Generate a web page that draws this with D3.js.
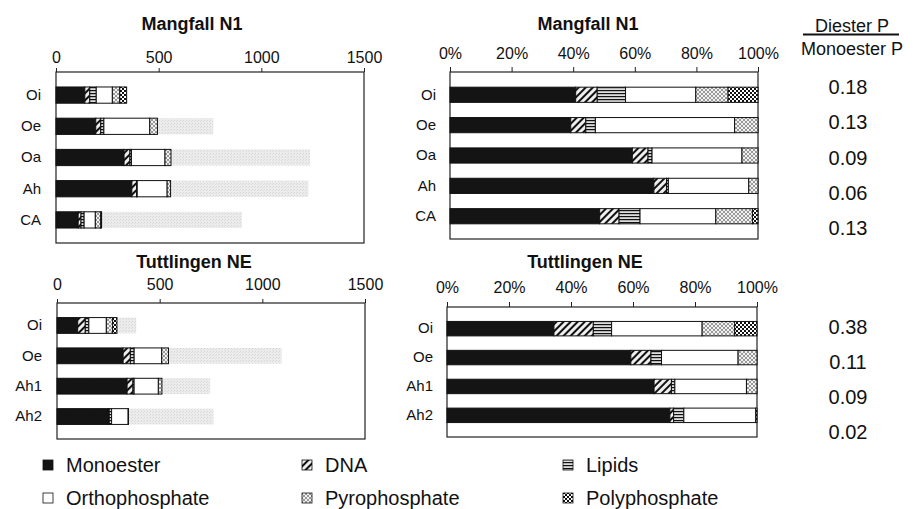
<!DOCTYPE html>
<html>
<head>
<meta charset="utf-8">
<script src="https://cdn.jsdelivr.net/npm/d3@7"></script>
<style>
  body { margin: 0; background: #fff; }
  svg { display: block; font-family: "Liberation Sans", Arial, sans-serif; }
</style>
</head>
<body>
<div id="chart"></div>
<script>
"use strict";

// P forms from 31P-NMR, share of NMR-detected P (%)
const components = ["Monoester", "DNA", "Lipids", "Orthophosphate", "Pyrophosphate", "Polyphosphate"];

const mangfallHorizons = ["Oi", "Oe", "Oa", "Ah", "CA"];
const mangfallShares = [
  [40.8, 7.0, 9.2, 22.8, 10.5, 9.7],
  [39.2, 4.9, 3.1, 45.2, 7.6, 0],
  [59.2, 5.1, 1.3, 29.2, 5.2, 0],
  [66.2, 4.1, 0.6, 26.1, 3.0, 0],
  [48.6, 6.3, 6.8, 24.6, 11.9, 1.8]
];
const mangfallNmrP = [344, 494, 560, 558, 222];
const mangfallTotalP = [null, 766, 1237, 1229, 906];
const mangfallRatio = ["0.18", "0.13", "0.09", "0.06", "0.13"];

const tuttHorizons = ["Oi", "Oe", "Ah1", "Ah2"];
const tuttShares = [
  [34.5, 12.7, 5.9, 29.2, 10.5, 7.2],
  [59.3, 6.5, 3.4, 24.7, 6.1, 0],
  [66.8, 5.6, 1.1, 23.1, 3.4, 0],
  [71.9, 1.2, 3.3, 23.2, 0, 0.4]
];
const tuttNmrP = [292, 543, 511, 348];
const tuttTotalP = [386, 1094, 746, 762];
const tuttRatio = ["0.38", "0.11", "0.09", "0.02"];

const absTicks = [0, 500, 1000, 1500];
const pctTicks = [0, 0.2, 0.4, 0.6, 0.8, 1];

const svg = d3.select("#chart").append("svg")
  .attr("width", 913)
  .attr("height", 509);

svg.append("rect").attr("width", 913).attr("height", 509).attr("fill", "#fff");

///////////////////////////
// fill patterns
///////////////////////////
const defs = svg.append("defs");

const pDna = defs.append("pattern").attr("id", "p-dna")
  .attr("patternUnits", "userSpaceOnUse").attr("width", 5).attr("height", 5)
  .attr("patternTransform", "rotate(45)");
pDna.append("rect").attr("width", 5).attr("height", 5).attr("fill", "#eee");
pDna.append("rect").attr("width", 2).attr("height", 5).attr("fill", "#111");

const pLip = defs.append("pattern").attr("id", "p-lip")
  .attr("patternUnits", "userSpaceOnUse").attr("width", 4).attr("height", 3);
pLip.append("rect").attr("width", 4).attr("height", 3).attr("fill", "#ddd");
pLip.append("rect").attr("width", 4).attr("height", 1.2).attr("fill", "#111");

const pPyro = defs.append("pattern").attr("id", "p-pyro")
  .attr("patternUnits", "userSpaceOnUse").attr("width", 4).attr("height", 4);
pPyro.append("rect").attr("width", 4).attr("height", 4).attr("fill", "#f2f2f2");
pPyro.append("path").attr("d", "M0,0L4,4M4,0L0,4").attr("stroke", "#999").attr("stroke-width", 1);

const pPoly = defs.append("pattern").attr("id", "p-poly")
  .attr("patternUnits", "userSpaceOnUse").attr("width", 4).attr("height", 4);
pPoly.append("rect").attr("width", 4).attr("height", 4).attr("fill", "#111");
pPoly.append("rect").attr("width", 2).attr("height", 2).attr("fill", "#fff");
pPoly.append("rect").attr("x", 2).attr("y", 2).attr("width", 2).attr("height", 2).attr("fill", "#fff");

const pTot = defs.append("pattern").attr("id", "p-tot")
  .attr("patternUnits", "userSpaceOnUse").attr("width", 3).attr("height", 3);
pTot.append("rect").attr("width", 3).attr("height", 3).attr("fill", "#ececec");
pTot.append("rect").attr("width", 1).attr("height", 1).attr("fill", "#d6d6d6");
pTot.append("rect").attr("x", 2).attr("y", 1).attr("width", 1).attr("height", 1).attr("fill", "#dcdcdc");

const fill = d3.scaleOrdinal()
  .domain(components)
  .range(["#141414", "url(#p-dna)", "url(#p-lip)", "#fff", "url(#p-pyro)", "url(#p-poly)"]);

///////////////////////////
// one stacked bar panel
///////////////////////////
const drawPanel = (o) => {
  const rows = o.horizons.map((h, i) => {
    const r = { horizon: h };
    components.forEach((c, j) => (r[c] = (o.shares[i][j] * o.nmr[i]) / 100));
    return r;
  });

  const stack = d3.stack().keys(components);
  if (o.percent) stack.offset(d3.stackOffsetExpand);
  const series = stack(rows);

  const x = d3.scaleLinear().domain(o.percent ? [0, 1] : [0, 1500]).range([o.x0, o.x1]);
  const y = d3.scaleBand().domain(o.horizons).range([o.y0, o.y1]).padding(o.pad);

  const g = svg.append("g");

  // box
  g.append("rect")
    .attr("x", o.x0).attr("y", o.y0)
    .attr("width", o.x1 - o.x0).attr("height", o.y1 - o.y0)
    .attr("fill", "none").attr("stroke", "#222").attr("stroke-width", 1.2);

  // total P behind NMR bars
  if (!o.percent) {
    g.selectAll(".tot")
      .data(o.horizons.map((h, i) => ({ h, v: o.total[i] })).filter((d) => d.v != null))
      .enter().append("rect")
      .attr("x", x(0))
      .attr("y", (d) => y(d.h))
      .attr("width", (d) => x(d.v) - x(0))
      .attr("height", y.bandwidth())
      .attr("fill", "url(#p-tot)");
  }

  g.selectAll(".layer")
    .data(series)
    .enter().append("g")
    .attr("fill", (d) => fill(d.key))
    .selectAll("rect")
    .data((d) => d.filter((s) => s[1] - s[0] > 1e-6))
    .enter().append("rect")
    .attr("x", (d) => x(d[0]))
    .attr("y", (d) => y(d.data.horizon))
    .attr("width", (d) => x(d[1]) - x(d[0]))
    .attr("height", y.bandwidth())
    .attr("stroke", "#111")
    .attr("stroke-width", 1);

  // top axis
  const ax = g.append("g")
    .attr("transform", `translate(0,${o.y0})`)
    .call(
      d3.axisTop(x)
        .tickValues(o.percent ? pctTicks : absTicks)
        .tickFormat(o.percent ? d3.format(".0%") : d3.format("d"))
        .tickSize(o.tickSize)
        .tickPadding(o.tickPad)
    );
  ax.select(".domain").remove();
  ax.selectAll("line").attr("stroke", "#222");
  ax.selectAll("text").attr("font-size", 16).attr("fill", "#111").attr("font-family", null);

  // horizon labels
  const ay = g.append("g")
    .attr("transform", `translate(${o.x0},0)`)
    .call(d3.axisLeft(y).tickSize(0).tickPadding(o.labPad));
  ay.select(".domain").remove();
  ay.selectAll("text").attr("font-size", 15).attr("fill", "#111").attr("font-family", null);

  g.append("text")
    .attr("x", o.tx).attr("y", o.ty)
    .attr("text-anchor", "middle")
    .attr("font-size", 18).attr("font-weight", "bold").attr("fill", "#111")
    .text(o.title);
};

drawPanel({ horizons: mangfallHorizons, shares: mangfallShares, nmr: mangfallNmrP, total: mangfallTotalP,
  percent: false, x0: 56, x1: 364, y0: 72, y1: 243, pad: 0.48, tickSize: 4, tickPad: 5, labPad: 15,
  title: "Mangfall N1", tx: 192, ty: 30 });
drawPanel({ horizons: mangfallHorizons, shares: mangfallShares, nmr: mangfallNmrP, total: mangfallTotalP,
  percent: true, x0: 450, x1: 758, y0: 72, y1: 239, pad: 0.5, tickSize: 5, tickPad: 8, labPad: 14,
  title: "Mangfall N1", tx: 588, ty: 30 });
drawPanel({ horizons: tuttHorizons, shares: tuttShares, nmr: tuttNmrP, total: tuttTotalP,
  percent: false, x0: 57, x1: 365, y0: 303, y1: 439, pad: 0.48, tickSize: 4, tickPad: 9, labPad: 15,
  title: "Tuttlingen NE", tx: 194, ty: 268 });
drawPanel({ horizons: tuttHorizons, shares: tuttShares, nmr: tuttNmrP, total: tuttTotalP,
  percent: true, x0: 447, x1: 757, y0: 307, y1: 437, pad: 0.5, tickSize: 5, tickPad: 9, labPad: 14,
  title: "Tuttlingen NE", tx: 585, ty: 268 });

///////////////////////////
// diester / monoester ratio column
///////////////////////////
const rc = svg.append("g").attr("fill", "#111");
rc.append("text").attr("x", 852).attr("y", 32).attr("text-anchor", "middle")
  .attr("font-size", 18).text("Diester P");
rc.append("line").attr("x1", 803).attr("x2", 899).attr("y1", 34.5).attr("y2", 34.5)
  .attr("stroke", "#111").attr("stroke-width", 1.8);
rc.append("text").attr("x", 852).attr("y", 55).attr("text-anchor", "middle")
  .attr("font-size", 18).text("Monoester P");

const ry1 = d3.scalePoint().domain(mangfallHorizons).range([94, 235]);
rc.selectAll(".r1").data(mangfallRatio).enter().append("text")
  .attr("x", 848).attr("y", (d, i) => ry1(mangfallHorizons[i]))
  .attr("text-anchor", "middle").attr("font-size", 20).text((d) => d);

const ry2 = d3.scalePoint().domain(tuttHorizons).range([334, 439]);
rc.selectAll(".r2").data(tuttRatio).enter().append("text")
  .attr("x", 848).attr("y", (d, i) => ry2(tuttHorizons[i]))
  .attr("text-anchor", "middle").attr("font-size", 20).text((d) => d);

///////////////////////////
// legend
///////////////////////////
const legCols = [43, 302, 563];
const legRows = [465, 498];
const leg = svg.append("g");
const items = leg.selectAll("g").data(components).enter().append("g")
  .attr("transform", (d, i) => `translate(${legCols[i % 3]},${legRows[Math.floor(i / 3)]})`);
items.append("rect")
  .attr("x", 0).attr("y", -5).attr("width", 10).attr("height", 10)
  .attr("fill", (d) => fill(d)).attr("stroke", "#111").attr("stroke-width", 0.8);
items.append("text")
  .attr("x", 23).attr("y", 0).attr("dy", "0.35em")
  .attr("font-size", 20).attr("fill", "#111")
  .text((d) => d);
</script>
</body>
</html>
